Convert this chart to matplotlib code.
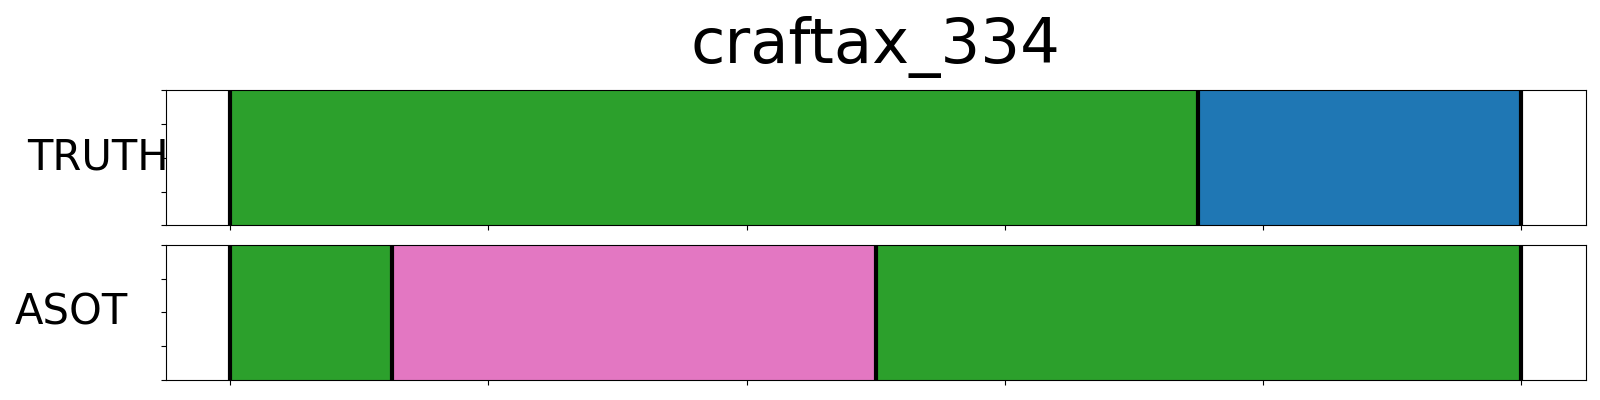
import matplotlib
matplotlib.use("Agg")
import matplotlib.pyplot as plt

# segment data (start, end, colour) for each row
title = "craftax_334"
row_names = ["TRUTH", "ASOT"]
truth_bounds = [0, 75, 100]
truth_colors = ["#2ca02c", "#1f77b4"]
asot_bounds = [0, 12.5, 50, 100]
asot_colors = ["#2ca02c", "#e377c2", "#2ca02c"]
x_ticks = [0, 20, 40, 60, 80, 100]

fig = plt.figure(figsize=(16, 4), dpi=100)
ax_top = fig.add_axes([0.1036, 0.437, 0.8875, 0.337])
ax_bot = fig.add_axes([0.1036, 0.051, 0.8875, 0.3365])

rows = [(ax_top, truth_bounds, truth_colors, -0.0475),
        (ax_bot, asot_bounds, asot_colors, -0.0663)]

for (ax, bounds, colors, lab_x), name in zip(rows, row_names):
    for i, c in enumerate(colors):
        ax.axvspan(bounds[i], bounds[i + 1], color=c, lw=0)
    for b in bounds:
        ax.axvline(b, color="black", lw=3)
    ax.set_xlim(-5, 105)
    ax.set_ylim(0, 1)
    ax.set_xticks(x_ticks)
    ax.set_xticklabels([])
    ax.set_yticks([0, 0.25, 0.5, 0.75, 1])
    ax.set_yticklabels([])
    ax.set_ylabel(name, fontsize=30, rotation=0, ha="center", va="center")
    ax.yaxis.set_label_coords(lab_x, 0.5)

ax_top.set_title(title, fontsize=45, pad=20)

plt.savefig("out.png")
